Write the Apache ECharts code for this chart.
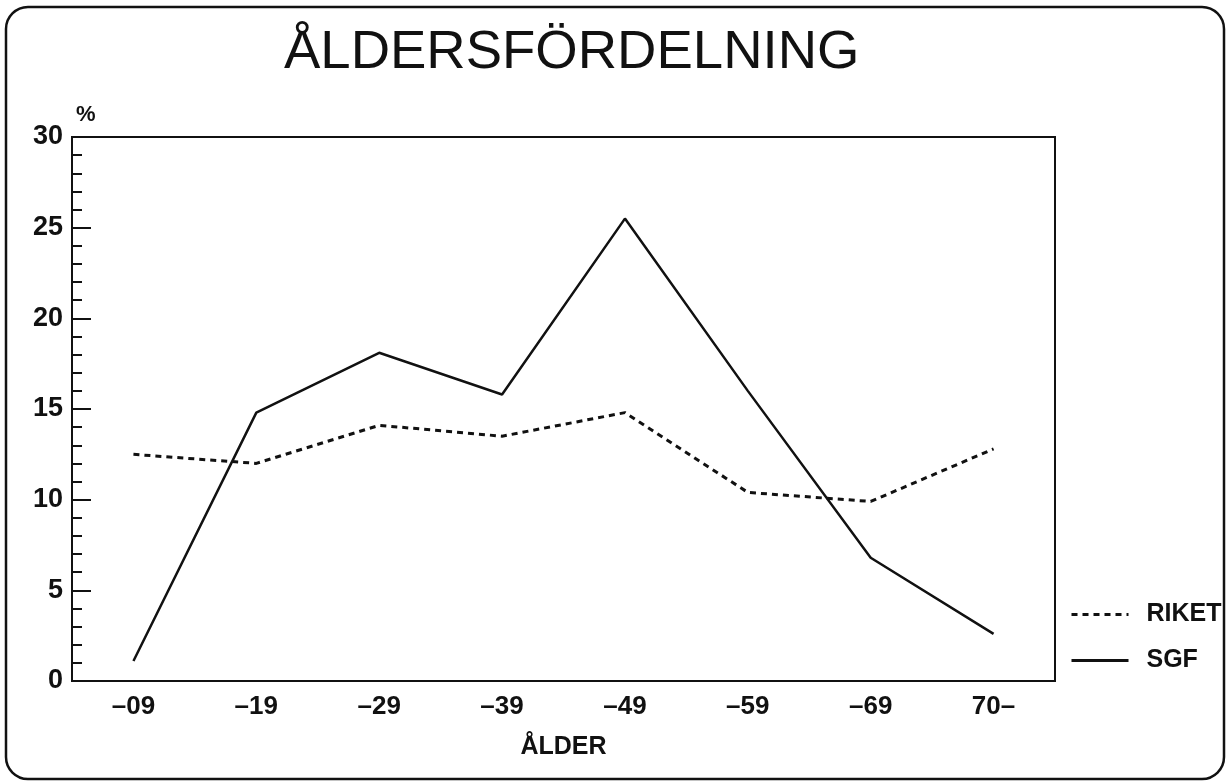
<!DOCTYPE html>
<html>
<head>
<meta charset="utf-8">
<title>Åldersfördelning</title>
<script src="https://cdn.jsdelivr.net/npm/echarts@6/dist/echarts.min.js"></script>
<style>
  html, body { margin: 0; padding: 0; background: #fff; }
  #chart { width: 1229px; height: 784px; }
</style>
</head>
<body>
<div id="chart"></div>
<script>
// age groups (x axis)
const ageGroups = ['–09', '–19', '–29', '–39', '–49', '–59', '–69', '70–']
// percent per age group
const riket = [12.5, 12.0, 14.1, 13.5, 14.8, 10.4, 9.9, 12.8]
const sgf = [1.1, 14.8, 18.1, 15.8, 25.5, 16.0, 6.8, 2.6]

const font = 'Liberation Sans, Arial, Helvetica, sans-serif'
const ink = '#111'

const chart = echarts.init(document.getElementById('chart'))

chart.setOption({
  backgroundColor: '#fff',
  animation: false,
  title: {
    text: 'ÅLDERSFÖRDELNING',
    left: 279,
    top: 20,
    textStyle: { fontFamily: font, fontSize: 54.5, fontWeight: 'normal', color: ink }
  },
  legend: {
    orient: 'vertical',
    left: 1065,
    top: 597,
    itemWidth: 57,
    itemHeight: 14,
    itemGap: 21,
    data: ['RIKET', 'SGF'],
    itemStyle: { opacity: 0 },
    lineStyle: { width: 3 },
    textStyle: {
      fontFamily: font, fontSize: 25, fontWeight: 'bold', color: ink,
      padding: [0, 0, 0, 13]
    }
  },
  grid: {
    left: 72,
    top: 137,
    right: 174,
    bottom: 103,
    show: true,
    borderColor: ink,
    borderWidth: 2,
    backgroundColor: 'transparent'
  },
  xAxis: {
    type: 'category',
    data: ageGroups,
    boundaryGap: true,
    name: 'ÅLDER',
    nameLocation: 'middle',
    nameGap: 54,
    nameTextStyle: { fontFamily: font, fontSize: 25, fontWeight: 'bold', color: ink },
    axisLine: { lineStyle: { color: ink, width: 2 } },
    axisTick: { alignWithLabel: true, length: 8, lineStyle: { color: ink, width: 2 } },
    axisLabel: { fontFamily: font, fontSize: 26, fontWeight: 'bold', color: ink, margin: 13 },
    splitLine: { show: false }
  },
  yAxis: {
    type: 'value',
    min: 0,
    max: 30,
    interval: 5,
    name: '%',
    nameLocation: 'end',
    nameGap: 11,
    nameTextStyle: {
      fontFamily: font, fontSize: 22, fontWeight: 'bold', color: ink,
      align: 'left', padding: [0, 0, 0, 4]
    },
    axisLine: { show: true, lineStyle: { color: ink, width: 2 } },
    axisTick: { show: true, inside: true, length: 19, lineStyle: { color: ink, width: 2 } },
    minorTick: { show: true, splitNumber: 5, length: 10, lineStyle: { color: ink, width: 2 } },
    axisLabel: { fontFamily: font, fontSize: 27, fontWeight: 'bold', color: ink, margin: 9 },
    splitLine: { show: false }
  },
  series: [
    {
      name: 'RIKET',
      type: 'line',
      data: riket,
      symbol: 'none',
      lineStyle: { color: ink, width: 3, type: [6, 5] },
      itemStyle: { color: ink }
    },
    {
      name: 'SGF',
      type: 'line',
      data: sgf,
      symbol: 'none',
      lineStyle: { color: ink, width: 2.5, type: 'solid' },
      itemStyle: { color: ink }
    }
  ],
  graphic: [
    {
      type: 'rect',
      shape: { x: 6, y: 7, width: 1218, height: 772, r: 22 },
      style: { fill: 'none', stroke: ink, lineWidth: 2.5 },
      silent: true
    }
  ]
})
</script>
</body>
</html>
